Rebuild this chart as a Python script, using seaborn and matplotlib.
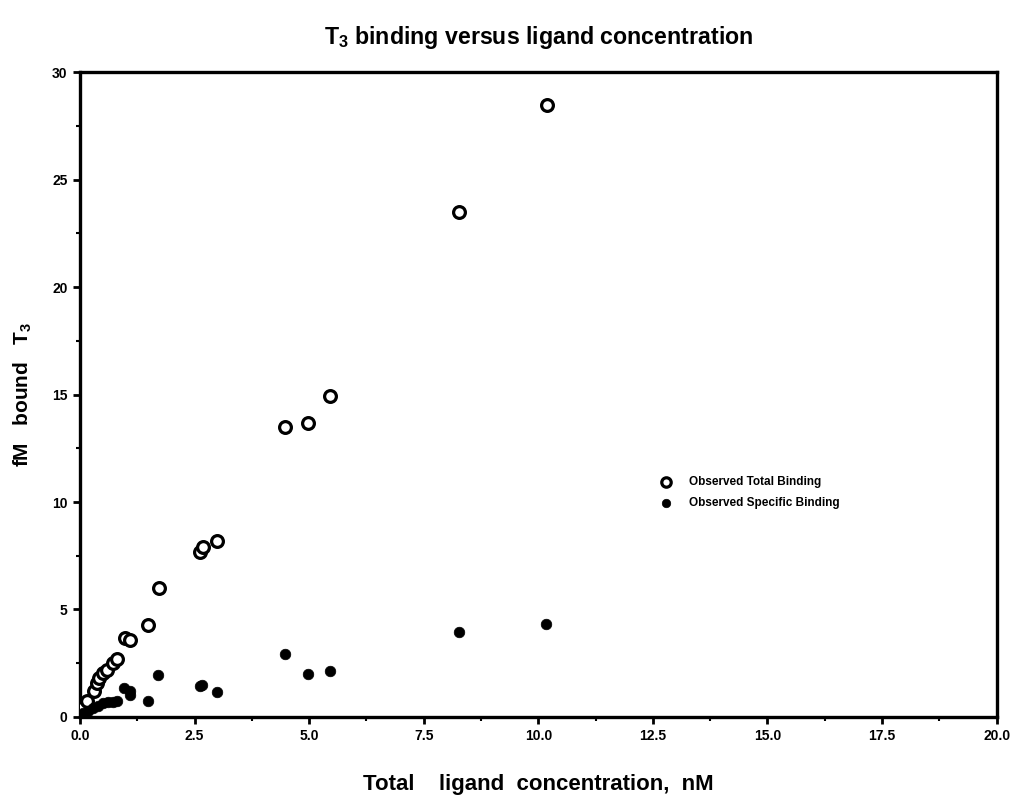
import matplotlib
matplotlib.use("Agg")
import matplotlib.pyplot as plt
from matplotlib.ticker import MultipleLocator, FormatStrFormatter
import seaborn as sns
import pandas as pd

# Total (observed) binding of T3
total_conc = [0.03, 0.07, 0.16, 0.31, 0.37, 0.42, 0.51, 0.58, 0.71, 0.80,
              0.98, 1.10, 1.49, 1.72, 2.62, 2.68, 2.99, 4.47, 4.97, 5.45,
              8.27, 10.20]
total_bound = [0.25, 0.48, 0.76, 1.22, 1.60, 1.80, 2.03, 2.19, 2.49, 2.68,
               3.67, 3.58, 4.28, 6.02, 7.67, 7.92, 8.19, 13.50, 13.67, 14.95,
               23.50, 28.45]

# Specific binding of T3
spec_conc = [0.07, 0.18, 0.29, 0.40, 0.51, 0.62, 0.71, 0.80, 0.96, 1.08,
             1.10, 1.48, 1.71, 2.62, 2.66, 2.99, 4.47, 4.97, 5.45, 8.27,
             10.16]
spec_bound = [0.17, 0.29, 0.40, 0.51, 0.64, 0.71, 0.71, 0.76, 1.33, 1.22,
              1.02, 0.76, 1.95, 1.44, 1.49, 1.16, 2.93, 2.00, 2.14, 3.95,
              4.33]

total_df = pd.DataFrame({"conc": total_conc, "bound": total_bound})
spec_df = pd.DataFrame({"conc": spec_conc, "bound": spec_bound})

sns.set_theme(style="white")
plt.rcParams["font.family"] = ["Liberation Sans", "DejaVu Sans"]
plt.rcParams["font.weight"] = "bold"
plt.rcParams["text.color"] = "black"
plt.rcParams["axes.labelcolor"] = "black"
plt.rcParams["xtick.color"] = "black"
plt.rcParams["ytick.color"] = "black"
plt.rcParams["mathtext.fontset"] = "custom"
plt.rcParams["mathtext.rm"] = "Liberation Sans:bold"
plt.rcParams["mathtext.bf"] = "Liberation Sans:bold"
plt.rcParams["mathtext.default"] = "rm"

fig = plt.figure(figsize=(10.18, 8.11), dpi=100)
ax = fig.add_axes([0.0786, 0.116, 0.9004, 0.795])

sns.scatterplot(data=total_df, x="conc", y="bound", ax=ax, marker="o",
                s=72, facecolor="white", edgecolor="black", linewidth=2.3,
                label="Observed Total Binding", zorder=3)
sns.scatterplot(data=spec_df, x="conc", y="bound", ax=ax, marker="o",
                s=58, color="black", edgecolor="black", linewidth=0.5,
                label="Observed Specific Binding", zorder=4)

ax.set_xlim(0, 20)
ax.set_ylim(0, 30)
ax.xaxis.set_major_locator(MultipleLocator(2.5))
ax.xaxis.set_minor_locator(MultipleLocator(1.25))
ax.xaxis.set_major_formatter(FormatStrFormatter("%.1f"))
ax.yaxis.set_major_locator(MultipleLocator(5))
ax.yaxis.set_minor_locator(MultipleLocator(2.5))

ax.tick_params(axis="both", which="major", direction="out", length=5,
               width=2, color="black", labelcolor="black", labelsize=10,
               pad=4, bottom=True, left=True)
ax.tick_params(axis="both", which="minor", direction="out", length=3,
               width=1.5, color="black", bottom=True, left=True)
for lbl in ax.get_xticklabels() + ax.get_yticklabels():
    lbl.set_fontweight("bold")

for side in ["left", "right", "top", "bottom"]:
    ax.spines[side].set_visible(True)
    ax.spines[side].set_color("black")
    ax.spines[side].set_linewidth(2.4)

ax.set_xlabel("Total    ligand  concentration,  nM", fontsize=16,
              fontweight="bold", labelpad=22, color="black")
ax.set_ylabel("fM   bound   T$_3$", fontsize=15, fontweight="bold",
              labelpad=13, color="black")
ax.set_title("T$_3$ binding versus ligand concentration", fontsize=16.7,
             fontweight="bold", pad=20, color="black")

leg = ax.legend(loc="upper left", bbox_to_anchor=(0.615, 0.39),
                frameon=False, fontsize=8.5, handletextpad=0.9,
                labelspacing=0.75, markerscale=0.8)
for t in leg.get_texts():
    t.set_fontweight("bold")
    t.set_color("black")

fig.savefig("out.png", dpi=100, facecolor="white")
